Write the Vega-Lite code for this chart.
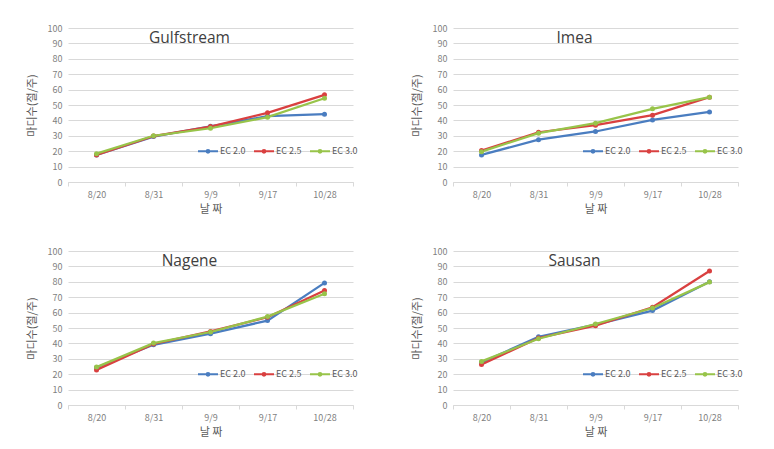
{
  "$schema": "https://vega.github.io/schema/vega-lite/v6.json",
  "padding": {"top": 24, "left": 26, "right": 5, "bottom": 5},
  "background": "white",
  "datasets": {
    "nodes": [
      {"variety": "Gulfstream", "date": "8/20", "ec": "EC 2.0", "value": 17.6},
      {"variety": "Gulfstream", "date": "8/31", "ec": "EC 2.0", "value": 29.5},
      {"variety": "Gulfstream", "date": "9/9", "ec": "EC 2.0", "value": 36.2},
      {"variety": "Gulfstream", "date": "9/17", "ec": "EC 2.0", "value": 42.7},
      {"variety": "Gulfstream", "date": "10/28", "ec": "EC 2.0", "value": 44.0},
      {"variety": "Gulfstream", "date": "8/20", "ec": "EC 2.5", "value": 17.5},
      {"variety": "Gulfstream", "date": "8/31", "ec": "EC 2.5", "value": 29.8},
      {"variety": "Gulfstream", "date": "9/9", "ec": "EC 2.5", "value": 36.0},
      {"variety": "Gulfstream", "date": "9/17", "ec": "EC 2.5", "value": 44.9},
      {"variety": "Gulfstream", "date": "10/28", "ec": "EC 2.5", "value": 56.6},
      {"variety": "Gulfstream", "date": "8/20", "ec": "EC 3.0", "value": 18.4},
      {"variety": "Gulfstream", "date": "8/31", "ec": "EC 3.0", "value": 30.0},
      {"variety": "Gulfstream", "date": "9/9", "ec": "EC 3.0", "value": 34.9},
      {"variety": "Gulfstream", "date": "9/17", "ec": "EC 3.0", "value": 42.1},
      {"variety": "Gulfstream", "date": "10/28", "ec": "EC 3.0", "value": 54.4},
      {"variety": "Imea", "date": "8/20", "ec": "EC 2.0", "value": 17.6},
      {"variety": "Imea", "date": "8/31", "ec": "EC 2.0", "value": 27.5},
      {"variety": "Imea", "date": "9/9", "ec": "EC 2.0", "value": 32.8},
      {"variety": "Imea", "date": "9/17", "ec": "EC 2.0", "value": 40.3},
      {"variety": "Imea", "date": "10/28", "ec": "EC 2.0", "value": 45.5},
      {"variety": "Imea", "date": "8/20", "ec": "EC 2.5", "value": 20.4},
      {"variety": "Imea", "date": "8/31", "ec": "EC 2.5", "value": 32.3},
      {"variety": "Imea", "date": "9/9", "ec": "EC 2.5", "value": 36.9},
      {"variety": "Imea", "date": "9/17", "ec": "EC 2.5", "value": 43.4},
      {"variety": "Imea", "date": "10/28", "ec": "EC 2.5", "value": 55.1},
      {"variety": "Imea", "date": "8/20", "ec": "EC 3.0", "value": 19.7},
      {"variety": "Imea", "date": "8/31", "ec": "EC 3.0", "value": 31.7},
      {"variety": "Imea", "date": "9/9", "ec": "EC 3.0", "value": 38.2},
      {"variety": "Imea", "date": "9/17", "ec": "EC 3.0", "value": 47.5},
      {"variety": "Imea", "date": "10/28", "ec": "EC 3.0", "value": 55.1},
      {"variety": "Nagene", "date": "8/20", "ec": "EC 2.0", "value": 24.3},
      {"variety": "Nagene", "date": "8/31", "ec": "EC 2.0", "value": 39.1},
      {"variety": "Nagene", "date": "9/9", "ec": "EC 2.0", "value": 46.3},
      {"variety": "Nagene", "date": "9/17", "ec": "EC 2.0", "value": 54.8},
      {"variety": "Nagene", "date": "10/28", "ec": "EC 2.0", "value": 79.3},
      {"variety": "Nagene", "date": "8/20", "ec": "EC 2.5", "value": 22.8},
      {"variety": "Nagene", "date": "8/31", "ec": "EC 2.5", "value": 39.6},
      {"variety": "Nagene", "date": "9/9", "ec": "EC 2.5", "value": 47.8},
      {"variety": "Nagene", "date": "9/17", "ec": "EC 2.5", "value": 57.0},
      {"variety": "Nagene", "date": "10/28", "ec": "EC 2.5", "value": 74.3},
      {"variety": "Nagene", "date": "8/20", "ec": "EC 3.0", "value": 24.6},
      {"variety": "Nagene", "date": "8/31", "ec": "EC 3.0", "value": 40.2},
      {"variety": "Nagene", "date": "9/9", "ec": "EC 3.0", "value": 47.4},
      {"variety": "Nagene", "date": "9/17", "ec": "EC 3.0", "value": 57.4},
      {"variety": "Nagene", "date": "10/28", "ec": "EC 3.0", "value": 72.2},
      {"variety": "Sausan", "date": "8/20", "ec": "EC 2.0", "value": 27.6},
      {"variety": "Sausan", "date": "8/31", "ec": "EC 2.0", "value": 44.3},
      {"variety": "Sausan", "date": "9/9", "ec": "EC 2.0", "value": 52.2},
      {"variety": "Sausan", "date": "9/17", "ec": "EC 2.0", "value": 61.3},
      {"variety": "Sausan", "date": "10/28", "ec": "EC 2.0", "value": 80.0},
      {"variety": "Sausan", "date": "8/20", "ec": "EC 2.5", "value": 26.3},
      {"variety": "Sausan", "date": "8/31", "ec": "EC 2.5", "value": 43.5},
      {"variety": "Sausan", "date": "9/9", "ec": "EC 2.5", "value": 51.5},
      {"variety": "Sausan", "date": "9/17", "ec": "EC 2.5", "value": 63.5},
      {"variety": "Sausan", "date": "10/28", "ec": "EC 2.5", "value": 87.0},
      {"variety": "Sausan", "date": "8/20", "ec": "EC 3.0", "value": 28.3},
      {"variety": "Sausan", "date": "8/31", "ec": "EC 3.0", "value": 43.0},
      {"variety": "Sausan", "date": "9/9", "ec": "EC 3.0", "value": 52.6},
      {"variety": "Sausan", "date": "9/17", "ec": "EC 3.0", "value": 63.0},
      {"variety": "Sausan", "date": "10/28", "ec": "EC 3.0", "value": 79.8}
    ]
  },
  "config": {
    "font": "Noto Sans CJK KR",
    "view": {"stroke": null},
    "axis": {
      "labelColor": "#7f7f7f",
      "labelFontSize": 9,
      "titleColor": "#595959",
      "titleFontSize": 11,
      "titleFontWeight": "normal"
    },
    "title": {"fontSize": 15.5, "fontWeight": "normal", "color": "#404040", "font": "Open Sans"}
  },
  "columns": 2,
  "spacing": {"column": 53, "row": 33},
  "concat": [
    {
      "title": {"text": "Gulfstream", "offset": -22, "dx": -21},
      "width": 285, "height": 154,
      "data": {"name": "nodes"},
      "transform": [{"filter": "datum.variety === 'Gulfstream'"}],
      "encoding": {
        "x": {"field": "date", "type": "ordinal", "sort": ["8/20", "8/31", "9/9", "9/17", "10/28"], "scale": {"type": "band", "paddingInner": 0, "paddingOuter": 0}, "title": "날 짜", "axis": {"labelAngle": 0, "domainColor": "#d9d9d9", "tickColor": "#d9d9d9", "tickBand": "extent", "tickSize": 4, "labelPadding": 4, "titlePadding": 4, "grid": false}},
        "y": {"field": "value", "type": "quantitative", "scale": {"domain": [0, 100], "nice": false}, "title": "마디수(절/주)", "axis": {"values": [0, 10, 20, 30, 40, 50, 60, 70, 80, 90, 100], "domain": false, "ticks": false, "gridColor": "#d9d9d9", "labelPadding": 6, "titlePadding": 10}},
        "color": {"field": "ec", "type": "nominal", "title": null, "scale": {"domain": ["EC 2.0", "EC 2.5", "EC 3.0"], "range": ["#4a7dc0", "#d94040", "#98c44a"]},
          "legend": {"orient": "none", "legendX": 129, "legendY": 112, "direction": "horizontal", "symbolType": "M-1,0H1M0.14,0A0.14,0.14,0,1,1,-0.14,0A0.14,0.14,0,1,1,0.14,0Z", "symbolSize": 400, "symbolStrokeWidth": 2, "labelFontSize": 9, "labelColor": "#595959", "columnPadding": 4, "labelOffset": 1}}
      },
      "layer": [
        {"mark": {"type": "line", "strokeWidth": 2.25}},
        {"mark": {"type": "point", "filled": true, "size": 25, "opacity": 1}}
      ]
    },
    {
      "title": {"text": "Imea", "offset": -22, "dx": -21},
      "width": 285, "height": 154,
      "data": {"name": "nodes"},
      "transform": [{"filter": "datum.variety === 'Imea'"}],
      "encoding": {
        "x": {"field": "date", "type": "ordinal", "sort": ["8/20", "8/31", "9/9", "9/17", "10/28"], "scale": {"type": "band", "paddingInner": 0, "paddingOuter": 0}, "title": "날 짜", "axis": {"labelAngle": 0, "domainColor": "#d9d9d9", "tickColor": "#d9d9d9", "tickBand": "extent", "tickSize": 4, "labelPadding": 4, "titlePadding": 4, "grid": false}},
        "y": {"field": "value", "type": "quantitative", "scale": {"domain": [0, 100], "nice": false}, "title": "마디수(절/주)", "axis": {"values": [0, 10, 20, 30, 40, 50, 60, 70, 80, 90, 100], "domain": false, "ticks": false, "gridColor": "#d9d9d9", "labelPadding": 6, "titlePadding": 10}},
        "color": {"field": "ec", "type": "nominal", "title": null, "scale": {"domain": ["EC 2.0", "EC 2.5", "EC 3.0"], "range": ["#4a7dc0", "#d94040", "#98c44a"]},
          "legend": {"orient": "none", "legendX": 129, "legendY": 112, "direction": "horizontal", "symbolType": "M-1,0H1M0.14,0A0.14,0.14,0,1,1,-0.14,0A0.14,0.14,0,1,1,0.14,0Z", "symbolSize": 400, "symbolStrokeWidth": 2, "labelFontSize": 9, "labelColor": "#595959", "columnPadding": 4, "labelOffset": 1}}
      },
      "layer": [
        {"mark": {"type": "line", "strokeWidth": 2.25}},
        {"mark": {"type": "point", "filled": true, "size": 25, "opacity": 1}}
      ]
    },
    {
      "title": {"text": "Nagene", "offset": -22, "dx": -21},
      "width": 285, "height": 154,
      "data": {"name": "nodes"},
      "transform": [{"filter": "datum.variety === 'Nagene'"}],
      "encoding": {
        "x": {"field": "date", "type": "ordinal", "sort": ["8/20", "8/31", "9/9", "9/17", "10/28"], "scale": {"type": "band", "paddingInner": 0, "paddingOuter": 0}, "title": "날 짜", "axis": {"labelAngle": 0, "domainColor": "#d9d9d9", "tickColor": "#d9d9d9", "tickBand": "extent", "tickSize": 4, "labelPadding": 4, "titlePadding": 4, "grid": false}},
        "y": {"field": "value", "type": "quantitative", "scale": {"domain": [0, 100], "nice": false}, "title": "마디수(절/주)", "axis": {"values": [0, 10, 20, 30, 40, 50, 60, 70, 80, 90, 100], "domain": false, "ticks": false, "gridColor": "#d9d9d9", "labelPadding": 6, "titlePadding": 10}},
        "color": {"field": "ec", "type": "nominal", "title": null, "scale": {"domain": ["EC 2.0", "EC 2.5", "EC 3.0"], "range": ["#4a7dc0", "#d94040", "#98c44a"]},
          "legend": {"orient": "none", "legendX": 129, "legendY": 112, "direction": "horizontal", "symbolType": "M-1,0H1M0.14,0A0.14,0.14,0,1,1,-0.14,0A0.14,0.14,0,1,1,0.14,0Z", "symbolSize": 400, "symbolStrokeWidth": 2, "labelFontSize": 9, "labelColor": "#595959", "columnPadding": 4, "labelOffset": 1}}
      },
      "layer": [
        {"mark": {"type": "line", "strokeWidth": 2.25}},
        {"mark": {"type": "point", "filled": true, "size": 25, "opacity": 1}}
      ]
    },
    {
      "title": {"text": "Sausan", "offset": -22, "dx": -21},
      "width": 285, "height": 154,
      "data": {"name": "nodes"},
      "transform": [{"filter": "datum.variety === 'Sausan'"}],
      "encoding": {
        "x": {"field": "date", "type": "ordinal", "sort": ["8/20", "8/31", "9/9", "9/17", "10/28"], "scale": {"type": "band", "paddingInner": 0, "paddingOuter": 0}, "title": "날 짜", "axis": {"labelAngle": 0, "domainColor": "#d9d9d9", "tickColor": "#d9d9d9", "tickBand": "extent", "tickSize": 4, "labelPadding": 4, "titlePadding": 4, "grid": false}},
        "y": {"field": "value", "type": "quantitative", "scale": {"domain": [0, 100], "nice": false}, "title": "마디수(절/주)", "axis": {"values": [0, 10, 20, 30, 40, 50, 60, 70, 80, 90, 100], "domain": false, "ticks": false, "gridColor": "#d9d9d9", "labelPadding": 6, "titlePadding": 10}},
        "color": {"field": "ec", "type": "nominal", "title": null, "scale": {"domain": ["EC 2.0", "EC 2.5", "EC 3.0"], "range": ["#4a7dc0", "#d94040", "#98c44a"]},
          "legend": {"orient": "none", "legendX": 129, "legendY": 112, "direction": "horizontal", "symbolType": "M-1,0H1M0.14,0A0.14,0.14,0,1,1,-0.14,0A0.14,0.14,0,1,1,0.14,0Z", "symbolSize": 400, "symbolStrokeWidth": 2, "labelFontSize": 9, "labelColor": "#595959", "columnPadding": 4, "labelOffset": 1}}
      },
      "layer": [
        {"mark": {"type": "line", "strokeWidth": 2.25}},
        {"mark": {"type": "point", "filled": true, "size": 25, "opacity": 1}}
      ]
    }
  ],
  "resolve": {"scale": {"color": "independent"}, "legend": {"color": "independent"}}
}
